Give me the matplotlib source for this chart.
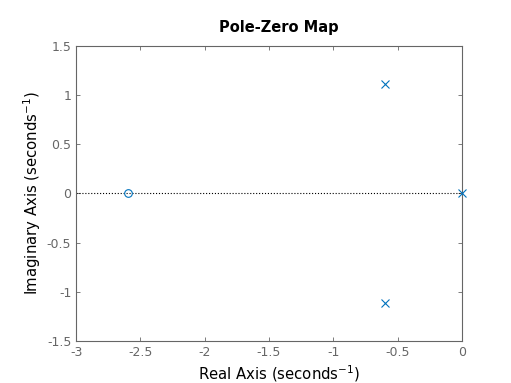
import matplotlib
matplotlib.use('Agg')
import matplotlib.pyplot as plt

# poles and zeros
pole_re = [-0.6, -0.6, 0.0]
pole_im = [1.11, -1.11, 0.0]
zero_re = [-2.6]
zero_im = [0.0]

xticks = [-3, -2.5, -2, -1.5, -1, -0.5, 0]
yticks = [-1.5, -1, -0.5, 0, 0.5, 1, 1.5]

blue = (0, 0.447, 0.741)

fig = plt.figure(figsize=(5.11, 3.83), dpi=100)
ax = fig.add_axes([0.149, 0.110, 0.755, 0.770])

ax.plot([-3, 0], [0, 0], ':', color='black', lw=0.8)
ax.plot(pole_re, pole_im, 'x', color=blue, ms=5.5, mew=0.8, ls='none',
        clip_on=False, zorder=5)
ax.plot(zero_re, zero_im, 'o', color=blue, mfc='none', ms=5.5, mew=0.8, ls='none',
        clip_on=False, zorder=5)

ax.set_xlim(-3, 0)
ax.set_ylim(-1.5, 1.5)
ax.set_xticks(xticks)
ax.set_yticks(yticks)
ax.set_xticklabels(['%g' % t for t in xticks])
ax.set_yticklabels(['%g' % t for t in yticks])
ax.tick_params(direction='in', top=True, right=True, length=3, width=0.6,
               colors=(0.4, 0.4, 0.4), labelcolor=(0.4, 0.4, 0.4), labelsize=9)
for s in ax.spines.values():
    s.set_color((0.4, 0.4, 0.4))
    s.set_linewidth(0.8)

ax.set_xlabel('Real Axis (seconds$^{-1}$)', fontsize=10.7, color='black', labelpad=1)
ax.xaxis.set_label_coords(0.527, -0.075)
ax.set_ylabel('Imaginary Axis (seconds$^{-1}$)', fontsize=10.7, color='black')
ax.yaxis.set_label_coords(-0.085, 0.5)
ax.set_title('Pole-Zero Map', fontsize=10.5, fontweight='bold', pad=10, x=0.525)

fig.savefig('out.png', dpi=100)
